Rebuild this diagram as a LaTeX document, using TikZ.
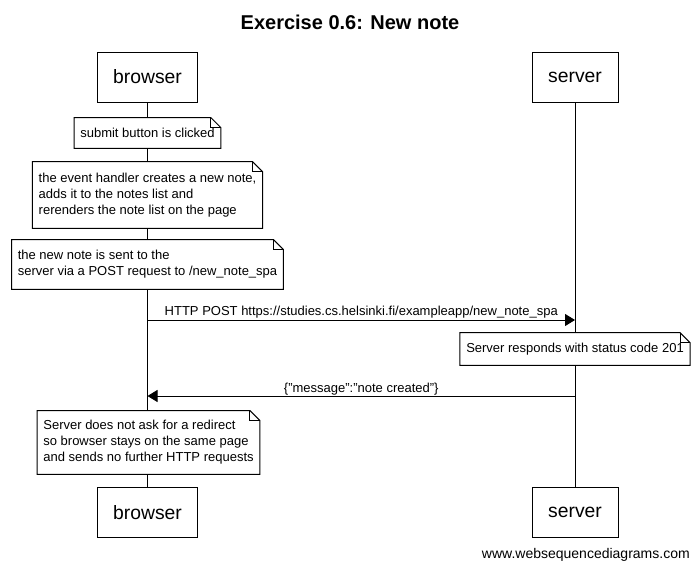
\documentclass[tikz,border=0pt]{standalone}
\usepackage{fontspec}
\setmainfont{Liberation Sans}
\usetikzlibrary{arrows.meta}
\newcommand\noteoutline[1]{%
  \draw[noteline] (#1.north west) -- ([xshift=-7.5pt]#1.north east) -- ([yshift=-7.5pt]#1.north east) -- (#1.south east) -- (#1.south west) -- cycle;
  \draw[noteline] ([xshift=-7.5pt]#1.north east) |- ([yshift=-7.5pt]#1.north east);}
\begin{document}
\begin{tikzpicture}[x=0.75pt,y=-0.75pt,
  every node/.style={font=\fontsize{9.75}{12}\selectfont},
  actor/.style={draw, line width=0.75pt, minimum height=37.5pt, inner sep=0pt, font=\fontsize{14.5}{17}\selectfont, fill=white},
  notetext/.style={fill=white, align=left, inner xsep=4.5pt, inner ysep=2pt},
  noteline/.style={draw, line width=0.75pt},
  life/.style={line width=0.75pt},
  msg/.style={line width=0.75pt, -{Triangle[length=7.5pt,width=9pt]}},
  lbl/.style={font=\fontsize{9.75}{12}\selectfont, inner sep=0pt, anchor=base}
]
\useasboundingbox (0,0) rectangle (699,571);
\fill[white] (0,0) rectangle (699,571);

\node[font=\bfseries\fontsize{15}{18}\selectfont] (title) at (350,22) {Exercise 0.6: New note};

\node[actor, minimum width=75pt] (bt) at (147.5,77) {browser};
\node[actor, minimum width=64.5pt] (st) at (575,77) {server};
\node[actor, minimum width=75pt] (bb) at (147.5,512.5) {browser};
\node[actor, minimum width=64.5pt] (sb) at (575,512.5) {server};

\draw[life] (bt.south) -- (bb.north);
\draw[life] (st.south) -- (sb.north);

\node[notetext, minimum height=22.5pt] (n1) at (147.5,133) {submit button is clicked};
\node[notetext, minimum height=49.5pt, text depth=2pt] (n2) at (147.5,195) {the event handler creates a new note,\\adds it to the notes list and\\rerenders the note list on the page};
\node[notetext, minimum height=37pt] (n3) at (147.5,264.5) {the new note is sent to the\\server via a POST request to /new\_note\_spa};
\node[notetext, minimum height=24pt] (n4) at (575,349) {Server responds with status code 201};
\node[notetext, minimum height=47.5pt] (n5) at (148.5,442.5) {Server does not ask for a redirect\\so browser stays on the same page\\and sends no further HTTP requests};

\noteoutline{n1}
\noteoutline{n2}
\noteoutline{n3}
\noteoutline{n4}
\noteoutline{n5}

\coordinate (m1s) at (147.5,320);
\coordinate (m1e) at (575,320);
\coordinate (m2s) at (575,396);
\coordinate (m2e) at (147.5,396);
\draw[msg] (m1s) -- node[lbl, yshift=3.75pt] (l1) {HTTP POST https://studies.cs.helsinki.fi/exampleapp/new\_note\_spa} (m1e);
\draw[msg] (m2s) -- node[lbl, yshift=2.6pt] (l2) {\{"message":"note created"\}} (m2e);

\node[anchor=east, inner sep=0pt, font=\fontsize{10.5}{12}\selectfont] (foot) at (690,555) {www.websequencediagrams.com};
\end{tikzpicture}
\end{document}
